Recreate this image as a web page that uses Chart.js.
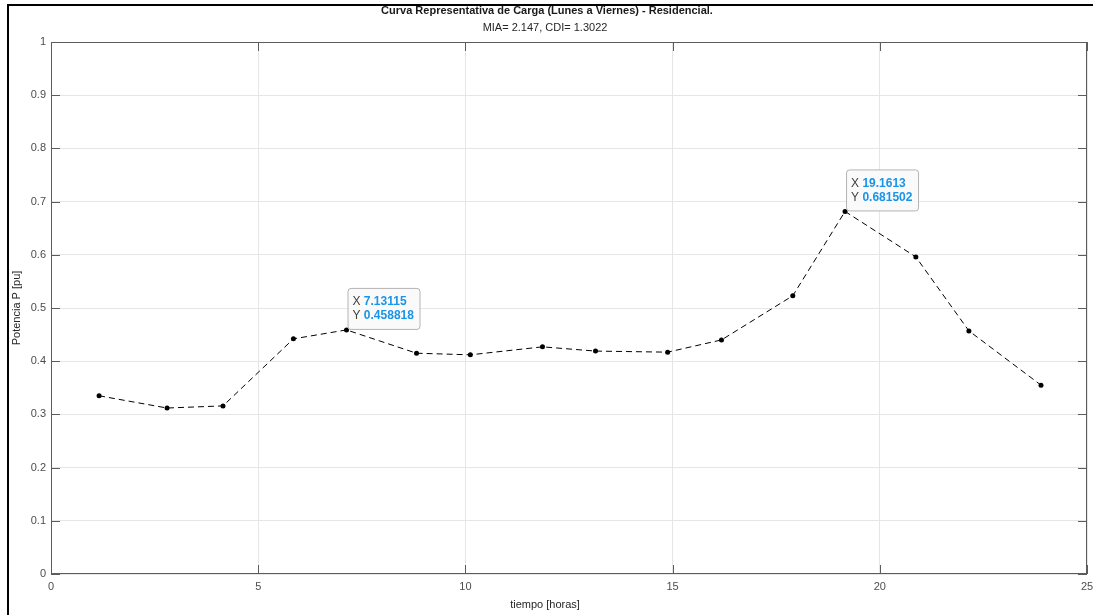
<!DOCTYPE html>
<html>
<head>
<meta charset="utf-8">
<script src="https://cdn.jsdelivr.net/npm/chart.js@4"></script>
<style>
  html, body { margin: 0; padding: 0; background: #fff; }
  #wrap { position: relative; width: 1093px; height: 615px; }
  #frame { position: absolute; left: 7px; top: 4px; right: 0; bottom: 0;
           border-top: 2px solid #000; border-left: 2px solid #000; pointer-events: none; }
</style>
</head>
<body>
<div id="wrap">
  <canvas id="curva" width="1093" height="615"></canvas>
  <div id="frame"></div>
</div>
<script>
// Datos
const horas = [1.16, 2.80, 4.15, 5.85, 7.13115, 8.82, 10.12, 11.86, 13.14, 14.88, 16.18, 17.9, 19.1613, 20.87, 22.15, 23.89];
const potencia = [0.335, 0.312, 0.316, 0.442, 0.458818, 0.415, 0.412, 0.427, 0.419, 0.417, 0.44, 0.523, 0.681502, 0.596, 0.457, 0.355];
const xTicks = [0, 5, 10, 15, 20, 25];
const yTicks = [0, 0.1, 0.2, 0.3, 0.4, 0.5, 0.6, 0.7, 0.8, 0.9, 1];
const dataTips = [4, 12]; // indices con etiqueta

const titulo = 'Curva Representativa de Carga (Lunes a Viernes) - Residencial.';
const subtitulo = 'MIA= 2.147, CDI= 1.3022';
const xTitulo = 'tiempo [horas]';

const FONT = '"Liberation Sans", Arial, sans-serif';

const extras = {
    id: 'extras',
    afterDraw(chart) {
        const ctx = chart.ctx;
        const a = chart.chartArea;
        const xs = chart.scales.x, ys = chart.scales.y;
        ctx.save();

        // box + inward ticks
        ctx.strokeStyle = '#5c5c5c';
        ctx.lineWidth = 1;
        ctx.strokeRect(Math.round(a.left) + 0.5, Math.round(a.top) + 0.5,
            Math.round(a.right - a.left) - 1, Math.round(a.bottom - a.top) - 1);
        ctx.beginPath();
        xTicks.forEach(v => {
            const px = Math.round(xs.getPixelForValue(v)) + 0.5;
            ctx.moveTo(px, a.bottom); ctx.lineTo(px, a.bottom - 9);
            ctx.moveTo(px, a.top); ctx.lineTo(px, a.top + 9);
        });
        yTicks.forEach(v => {
            const py = Math.round(ys.getPixelForValue(v)) + 0.5;
            ctx.moveTo(a.left, py); ctx.lineTo(a.left + 9, py);
            ctx.moveTo(a.right, py); ctx.lineTo(a.right - 9, py);
        });
        ctx.stroke();

        // titles
        ctx.fillStyle = '#1a1a1a';
        ctx.textAlign = 'center';
        ctx.textBaseline = 'middle';
        ctx.font = 'bold 11px ' + FONT;
        ctx.fillText(titulo, 547, 11);
        ctx.font = '11px ' + FONT;
        ctx.fillStyle = '#262626';
        ctx.fillText(subtitulo, 545, 28);
        ctx.fillText(xTitulo, 545, 605);

        // data tips
        dataTips.forEach(i => {
            const px = xs.getPixelForValue(horas[i]);
            const py = ys.getPixelForValue(potencia[i]);
            const w = 72, h = 41;
            const x0 = px + 1, y0 = py - h - 1;
            ctx.beginPath();
            ctx.roundRect(x0 + 0.5, y0 + 0.5, w, h, 3);
            ctx.fillStyle = 'rgba(250,250,250,0.95)';
            ctx.fill();
            ctx.strokeStyle = '#b4b4b4';
            ctx.stroke();
            const lines = [['X ', String(horas[i])], ['Y ', String(potencia[i])]];
            ctx.textAlign = 'left';
            lines.forEach((ln, k) => {
                const ty = y0 + 14 + k * 14;
                ctx.font = '12px ' + FONT;
                ctx.fillStyle = '#404040';
                ctx.fillText(ln[0], x0 + 5, ty);
                const off = ctx.measureText(ln[0]).width;
                ctx.font = 'bold 12px ' + FONT;
                ctx.fillStyle = '#1a94e8';
                ctx.fillText(ln[1], x0 + 5 + off, ty);
            });
        });
        ctx.restore();
    }
};

new Chart(document.getElementById('curva'), {
    type: 'scatter',
    data: {
        datasets: [{
            data: horas.map((h, i) => ({ x: h, y: potencia[i] })),
            showLine: true,
            borderColor: '#000',
            borderWidth: 1,
            borderDash: [6, 4],
            pointRadius: 2.5,
            pointBackgroundColor: '#000',
            pointBorderColor: '#000',
            pointBorderWidth: 0
        }]
    },
    options: {
        responsive: false,
        animation: false,
        layout: { padding: { top: 42, right: 6, left: 8, bottom: 0 } },
        plugins: { legend: { display: false }, tooltip: { enabled: false } },
        scales: {
            x: {
                type: 'linear', min: 0, max: 25,
                afterBuildTicks: s => { s.ticks = xTicks.map(v => ({ value: v })); },
                afterFit: s => { s.height = 41; s.paddingLeft = 0; s.paddingRight = 0; },
                grid: { color: '#e6e6e6', drawTicks: false },
                border: { display: false },
                ticks: { color: '#4d4d4d', padding: 6, font: { family: FONT, size: 11 } }
            },
            y: {
                min: 0, max: 1,
                afterBuildTicks: s => { s.ticks = yTicks.map(v => ({ value: v })); },
                afterFit: s => { s.width = 43; s.paddingTop = 0; s.paddingBottom = 0; },
                grid: { color: '#e6e6e6', drawTicks: false },
                border: { display: false },
                ticks: { color: '#4d4d4d', padding: 5, font: { family: FONT, size: 11 },
                         callback: v => String(+v.toFixed(1)) },
                title: { display: true, text: 'Potencia P [pu]', color: '#262626',
                         padding: { top: 2, bottom: 0 }, font: { family: FONT, size: 11 } }
            }
        }
    },
    plugins: [extras]
});
</script>
</body>
</html>
